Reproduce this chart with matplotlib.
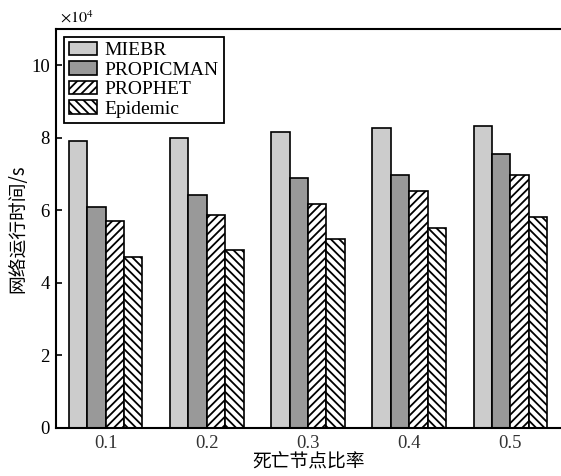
import matplotlib
matplotlib.use("Agg")
import matplotlib.pyplot as plt
import numpy as np

# === Data (x10^4 s) ===
ratios = [0.1, 0.2, 0.3, 0.4, 0.5]
tick_labels = ["0.1", "0.2", "0.3", "0.4", "0.5"]
miebr = [7.91, 8.00, 8.17, 8.26, 8.32]
propicman = [6.10, 6.41, 6.89, 6.97, 7.55]
prophet = [5.71, 5.86, 6.18, 6.54, 6.97]
epidemic = [4.72, 4.90, 5.20, 5.52, 5.82]

series = [
    ("MIEBR", miebr, "#cccccc", None),
    ("PROPICMAN", propicman, "#999999", None),
    ("PROPHET", prophet, "white", "////"),
    ("Epidemic", epidemic, "white", "\\\\\\\\"),
]

plt.rcParams['font.family'] = ['Liberation Serif', 'Noto Sans CJK SC']
plt.rcParams['mathtext.fontset'] = 'stix'
plt.rcParams['hatch.linewidth'] = 1.3

fig = plt.figure(figsize=(5.61, 4.76), dpi=100)
ax = fig.add_axes([0.099, 0.1015, 0.901, 0.8375])

width = 0.0182
x = np.array(ratios)
for i, (name, vals, color, hatch) in enumerate(series):
    ax.bar(x + (i - 1.5) * width, vals, width, color=color, hatch=hatch,
           edgecolor='black', linewidth=1.2, label=name)

ax.set_xlim(0.0505, 0.55)
ax.set_ylim(0, 11)
ax.set_xticks(ratios)
ax.set_xticklabels(tick_labels)
ax.set_yticks([0, 2, 4, 6, 8, 10])
ax.tick_params(axis='x', length=0, labelsize=13.5, pad=5, labelcolor='#333333')
ax.tick_params(axis='y', direction='in', length=4, width=1.2, labelsize=13.5, pad=4)

for s in ['left', 'bottom', 'top']:
    ax.spines[s].set_linewidth(1.5)
ax.spines['right'].set_visible(False)

ax.set_xlabel("死亡节点比率", fontsize=13.5, family=['Noto Sans CJK SC'], labelpad=0)
ax.set_ylabel("网络运行时间/s", fontsize=13.5, family=['Noto Sans CJK SC'], labelpad=2)

ax.text(0.008, 1.006, r"$\times10^{4}$", transform=ax.transAxes, fontsize=11.5,
        ha='left', va='bottom')

leg = ax.legend(loc='upper left', bbox_to_anchor=(0.005, 0.995), fontsize=14,
                frameon=True, fancybox=False, edgecolor='black', framealpha=1,
                handlelength=1.45, handletextpad=0.4, labelspacing=0.1,
                borderpad=0.25, borderaxespad=0.3)
leg.get_frame().set_linewidth(1.3)

fig.savefig("out.png", dpi=100)
